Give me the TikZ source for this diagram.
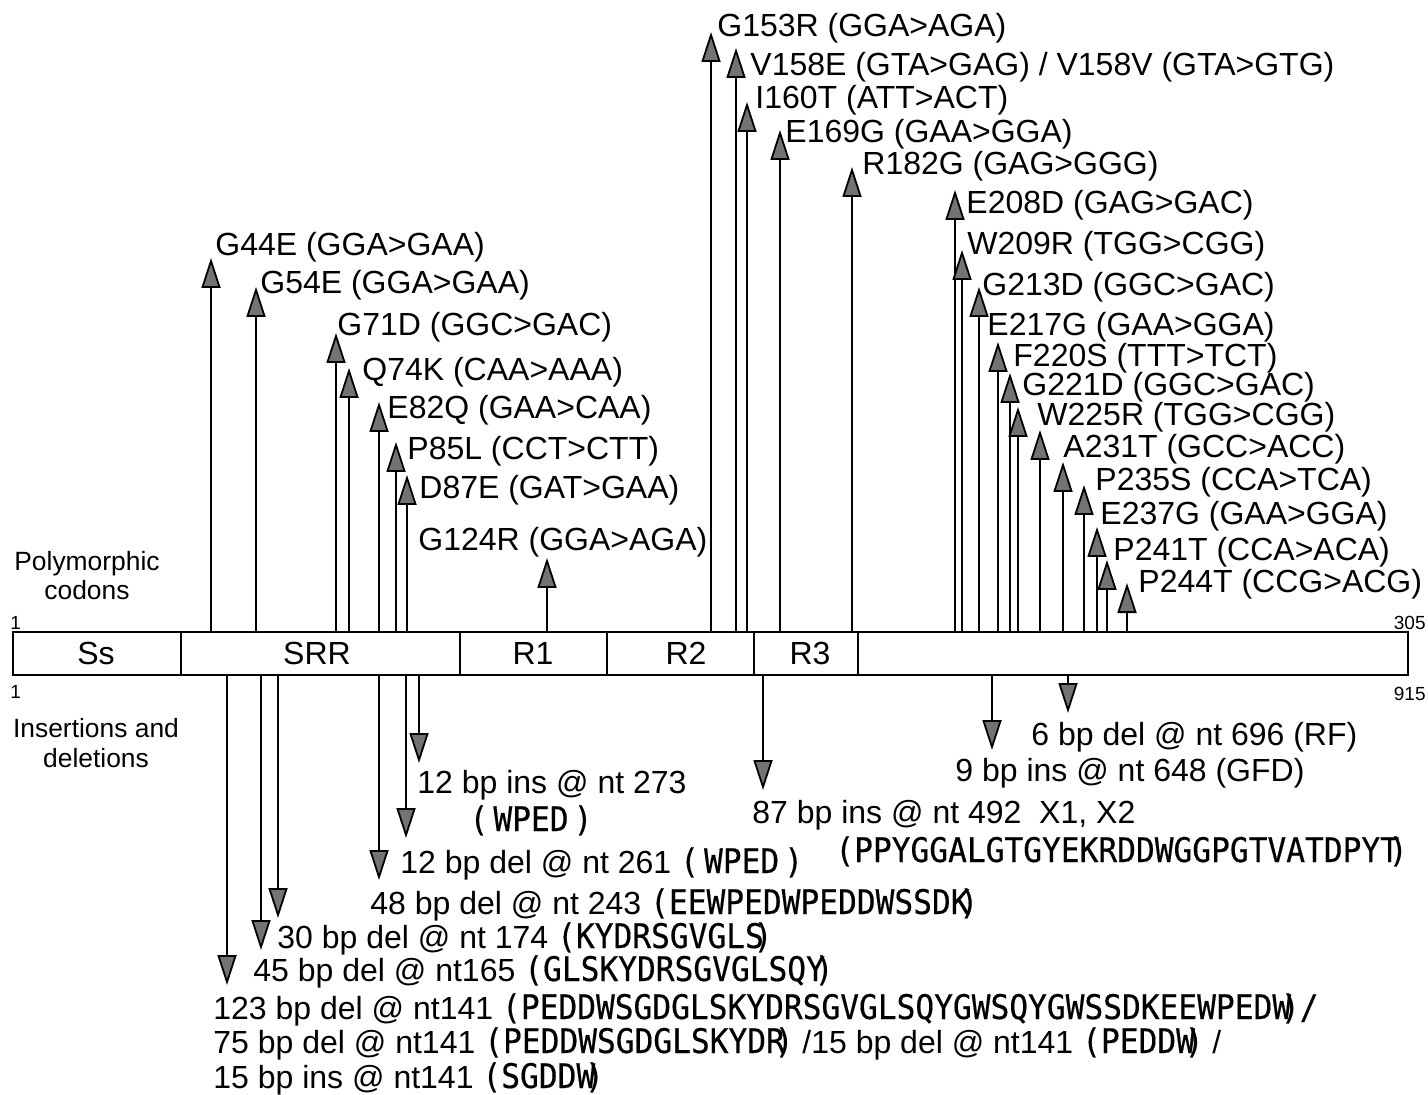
\documentclass[tikz,border=0pt]{standalone}
\usepackage{fontspec}
\setmainfont{Liberation Sans}
\newfontfamily\seqf{DejaVu Sans Mono}[Scale=1.06,FakeStretch=0.92,FakeBold=0.4]
\usetikzlibrary{arrows.meta}
% amino-acid sequences are set in a monospaced face
\newcommand\sq[1]{{\seqf #1}}
% closing parenthesis tucked against the last residue
\newcommand\kp{\kern-0.3em)}
\begin{document}
\begin{tikzpicture}[x=0.5pt,y=-0.5pt,
  lbl/.style={anchor=base west, inner sep=0pt, font=\fontsize{16}{19}\selectfont},
  reg/.style={inner sep=0pt, font=\fontsize{16}{19}\selectfont},
  side/.style={anchor=base, inner sep=0pt, align=center, font=\fontsize{13.2}{14.8}\selectfont},
  num/.style={inner sep=0pt, font=\fontsize{9.5}{11}\selectfont},
  tipline/.style={line width=0.9pt, -{Triangle[width=9.5pt,length=15pt,fill=black!55]}},
  divider/.style={line width=0.9pt}]
\useasboundingbox (0,0) rectangle (1428,1095);

% protein bar with its domains
\node[draw, line width=1pt, minimum width=697.5pt, minimum height=21.5pt,
      inner sep=0pt, anchor=north west] (bar) at (12,631) {};
\foreach \x in {181,460,607,754,858}
  \draw[divider] (\x,631) -- (\x,674);
\node[reg] (ss)  at (96,653)  {Ss};
\node[reg] (srr) at (317,653) {SRR};
\node[reg] (r1)  at (533,653) {R1};
\node[reg] (r2)  at (686,653) {R2};
\node[reg] (r3)  at (810,653) {R3};

% end positions
\node[num, anchor=base west] (aa1)  at (10,630)   {1};
\node[num, anchor=base west] (nt1)  at (10,698)   {1};
\node[num, anchor=base east] (aa305) at (1426,630) {305};
\node[num, anchor=base east] (nt915) at (1426,700) {915};

% row titles (base anchor sits on the last line)
\node[side] (poly) at (87,600)  {Polymorphic\\codons};
\node[side] (indel) at (96,767) {Insertions and\\deletions};

% polymorphic codons (arrows above the bar)
\foreach \x/\t [count=\i] in {211/258,256/287,336/333,349/368,379/402,396/442,407/475,547/558,
    711/32,736/48,747/102,780/130,852/167,
    955/190,962/250,979/287,998/342,1010/373,1018/407,1040/430,1063/462,1084/485,1097/527,1107/560,1127/583}{
  \coordinate (u\i) at (\x,\t);
  \draw[tipline] (bar.north -| u\i) -- (u\i);
}
\node[lbl] (g44e)  at (215,256)  {G44E (GGA>GAA)};
\node[lbl] (g54e)  at (260,294)  {G54E (GGA>GAA)};
\node[lbl] (g71d)  at (337,336)  {G71D (GGC>GAC)};
\node[lbl] (q74k)  at (362,381)  {Q74K (CAA>AAA)};
\node[lbl] (e82q)  at (387,419)  {E82Q (GAA>CAA)};
\node[lbl] (p85l)  at (407,460)  {P85L (CCT>CTT)};
\node[lbl] (d87e)  at (419,499)  {D87E (GAT>GAA)};
\node[lbl] (g124r) at (418,551)  {G124R (GGA>AGA)};
\node[lbl] (g153r) at (717,37)   {G153R (GGA>AGA)};
\node[lbl] (v158e) at (750,76)   {V158E (GTA>GAG) / V158V (GTA>GTG)};
\node[lbl] (i160t) at (755,109)  {I160T (ATT>ACT)};
\node[lbl] (e169g) at (785,143)  {E169G (GAA>GGA)};
\node[lbl] (r182g) at (862,175)  {R182G (GAG>GGG)};
\node[lbl] (e208d) at (966,214)  {E208D (GAG>GAC)};
\node[lbl] (w209r) at (967,255)  {W209R (TGG>CGG)};
\node[lbl] (g213d) at (982,296)  {G213D (GGC>GAC)};
\node[lbl] (e217g) at (987,336)  {E217G (GAA>GGA)};
\node[lbl] (f220s) at (1013,367) {F220S (TTT>TCT)};
\node[lbl] (g221d) at (1022,396) {G221D (GGC>GAC)};
\node[lbl] (w225r) at (1037,426) {W225R (TGG>CGG)};
\node[lbl] (a231t) at (1063,458) {A231T (GCC>ACC)};
\node[lbl] (p235s) at (1095,491) {P235S (CCA>TCA)};
\node[lbl] (e237g) at (1100,525) {E237G (GAA>GGA)};
\node[lbl] (p241t) at (1113,561) {P241T (CCA>ACA)};
\node[lbl] (p244t) at (1138,593) {P244T (CCG>ACG)};

% insertions and deletions (arrows below the bar)
\foreach \x/\t [count=\i] in {227/985,261/950,278/918,379/880,406/838,419/763,763/790,992/750,1068/713}{
  \coordinate (d\i) at (\x,\t);
  \draw[tipline] (bar.south -| d\i) -- (d\i);
}
\node[lbl] (ins273)  at (417,793)  {12 bp ins @ nt 273};
\node[lbl, anchor=base] (ins273s) at (531,831) {\sq{(\kern0.15em WPED\kern0.15em)}};
\node[lbl] (del261)  at (400,873)  {12 bp del @ nt 261 \sq{(\kern0.15em WPED\kern0.15em)}};
\node[lbl] (del243)  at (370,914)  {48 bp del @ nt 243 \sq{(EEWPEDWPEDDWSSDK\kp}};
\node[lbl] (del174)  at (277,948)  {30 bp del @ nt 174 \sq{(KYDRSGVGLS\kp}};
\node[lbl] (del165)  at (253,981)  {45 bp del @ nt165 \sq{(GLSKYDRSGVGLSQY\kp}};
\node[lbl] (del123)  at (213,1019) {123 bp del @ nt141 \sq{(PEDDWSGDGLSKYDRSGVGLSQYGWSQYGWSSDKEEWPEDW\kp/}};
\node[lbl] (del75)   at (213,1053) {75 bp del @ nt141 \sq{(PEDDWSGDGLSKYDR\kp} /15 bp del @ nt141 \sq{(PEDDW\kp} /};
\node[lbl] (ins15)   at (213,1088) {15 bp ins @ nt141 \sq{(SGDDW\kp}};
\node[lbl] (ins492)  at (752,823)  {87 bp ins @ nt 492\ \ X1, X2};
\node[lbl] (ins492s) at (835,862)  {\sq{(PPYGGALGTGYEKRDDWGGPGTVATDPYT\kp}};
\node[lbl] (ins648)  at (955,781)  {9 bp ins @ nt 648 (GFD)};
\node[lbl] (del696)  at (1031,745) {6 bp del @ nt 696 (RF)};
\end{tikzpicture}
\end{document}
